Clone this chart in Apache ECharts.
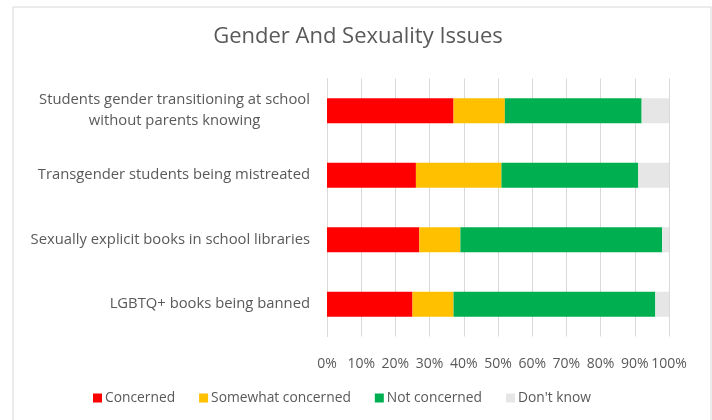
<!DOCTYPE html>
<html>
<head>
<meta charset="utf-8">
<script src="https://cdn.jsdelivr.net/npm/echarts@6/dist/echarts.min.js"></script>
<style>
  html, body { margin: 0; padding: 0; background: #ffffff; }
  #chart { width: 712px; height: 420px; }
</style>
</head>
<body>
<div id="chart"></div>
<script>
// Survey topics, listed bottom to top as drawn on the category axis
const categories = [
  'LGBTQ+ books being banned',
  'Sexually explicit books in school libraries',
  'Transgender students being mistreated',
  'Students gender transitioning at school\nwithout parents knowing'
];

// Share of respondents (%) per answer, same order as categories
const concerned = [25, 27, 26, 37];
const somewhatConcerned = [12, 12, 25, 15];
const notConcerned = [59, 59, 40, 40];
const dontKnow = [4, 2, 9, 8];

const seriesNames = ['Concerned', 'Somewhat concerned', 'Not concerned', "Don't know"];
const seriesColors = ['#FF0000', '#FFC000', '#00B050', '#E7E6E6'];
const tickLabels = ['0%', '10%', '20%', '30%', '40%', '50%', '60%', '70%', '80%', '90%', '100%'];

const FONT = '"Open Sans", "Noto Sans", sans-serif';
const TEXT = '#595959';
const CAT_SIZE = 14.8;

// Wrapped category labels are centred line by line; measure the widest line
const measureCtx = document.createElement('canvas').getContext('2d');
measureCtx.font = CAT_SIZE + 'px ' + FONT;
function lineWidth(s) { return Math.ceil(measureCtx.measureText(s).width); }

const chart = echarts.init(document.getElementById('chart'), null, { renderer: 'canvas' });

const valueSets = [concerned, somewhatConcerned, notConcerned, dontKnow];

chart.setOption({
  backgroundColor: '#ffffff',
  animation: false,
  title: {
    text: 'Gender And Sexuality Issues',
    left: 353,
    textAlign: 'center',
    top: 21,
    textStyle: { fontFamily: FONT, fontSize: 22, fontWeight: 'normal', color: TEXT }
  },
  legend: {
    left: 88,
    top: 386,
    itemWidth: 9,
    itemHeight: 9,
    itemGap: 24,
    icon: 'rect',
    data: seriesNames,
    textStyle: { fontFamily: FONT, fontSize: 13.8, color: TEXT, padding: [0, 0, 0, -2] }
  },
  grid: { left: 327, right: 43, top: 78.5, bottom: 83.5, containLabel: false },
  xAxis: {
    type: 'value',
    min: 0,
    max: 100,
    interval: 10,
    axisLine: { show: false },
    axisTick: { show: false },
    splitLine: { show: true, lineStyle: { color: '#D9D9D9', width: 1 } },
    axisLabel: {
      margin: 21,
      fontFamily: FONT,
      fontSize: 14,
      color: TEXT,
      formatter: function (v) { return tickLabels[Math.round(v / 10)]; }
    }
  },
  yAxis: {
    type: 'category',
    data: categories,
    axisLine: { show: true, lineStyle: { color: '#D9D9D9' } },
    axisTick: { show: false },
    axisLabel: {
      margin: 17,
      fontFamily: FONT,
      fontSize: CAT_SIZE,
      color: TEXT,
      lineHeight: 21,
      formatter: function (v) {
        const lines = v.split('\n');
        if (lines.length === 1) return v;
        return lines.map(function (l) { return '{c|' + l + '}'; }).join('\n');
      },
      rich: {
        c: {
          fontFamily: FONT,
          fontSize: CAT_SIZE,
          color: TEXT,
          lineHeight: 21,
          align: 'center',
          width: lineWidth('Students gender transitioning at school')
        }
      }
    }
  },
  series: seriesNames.map(function (name, i) {
    return {
      name: name,
      type: 'bar',
      stack: 'total',
      barWidth: 25,
      itemStyle: { color: seriesColors[i] },
      data: valueSets[i]
    };
  }),
  graphic: [{
    type: 'rect',
    shape: { x: 13, y: 7, width: 698, height: 430 },
    style: { fill: 'none', stroke: '#D9D9D9', lineWidth: 1 },
    silent: true,
    z: 100
  }]
});
</script>
</body>
</html>
